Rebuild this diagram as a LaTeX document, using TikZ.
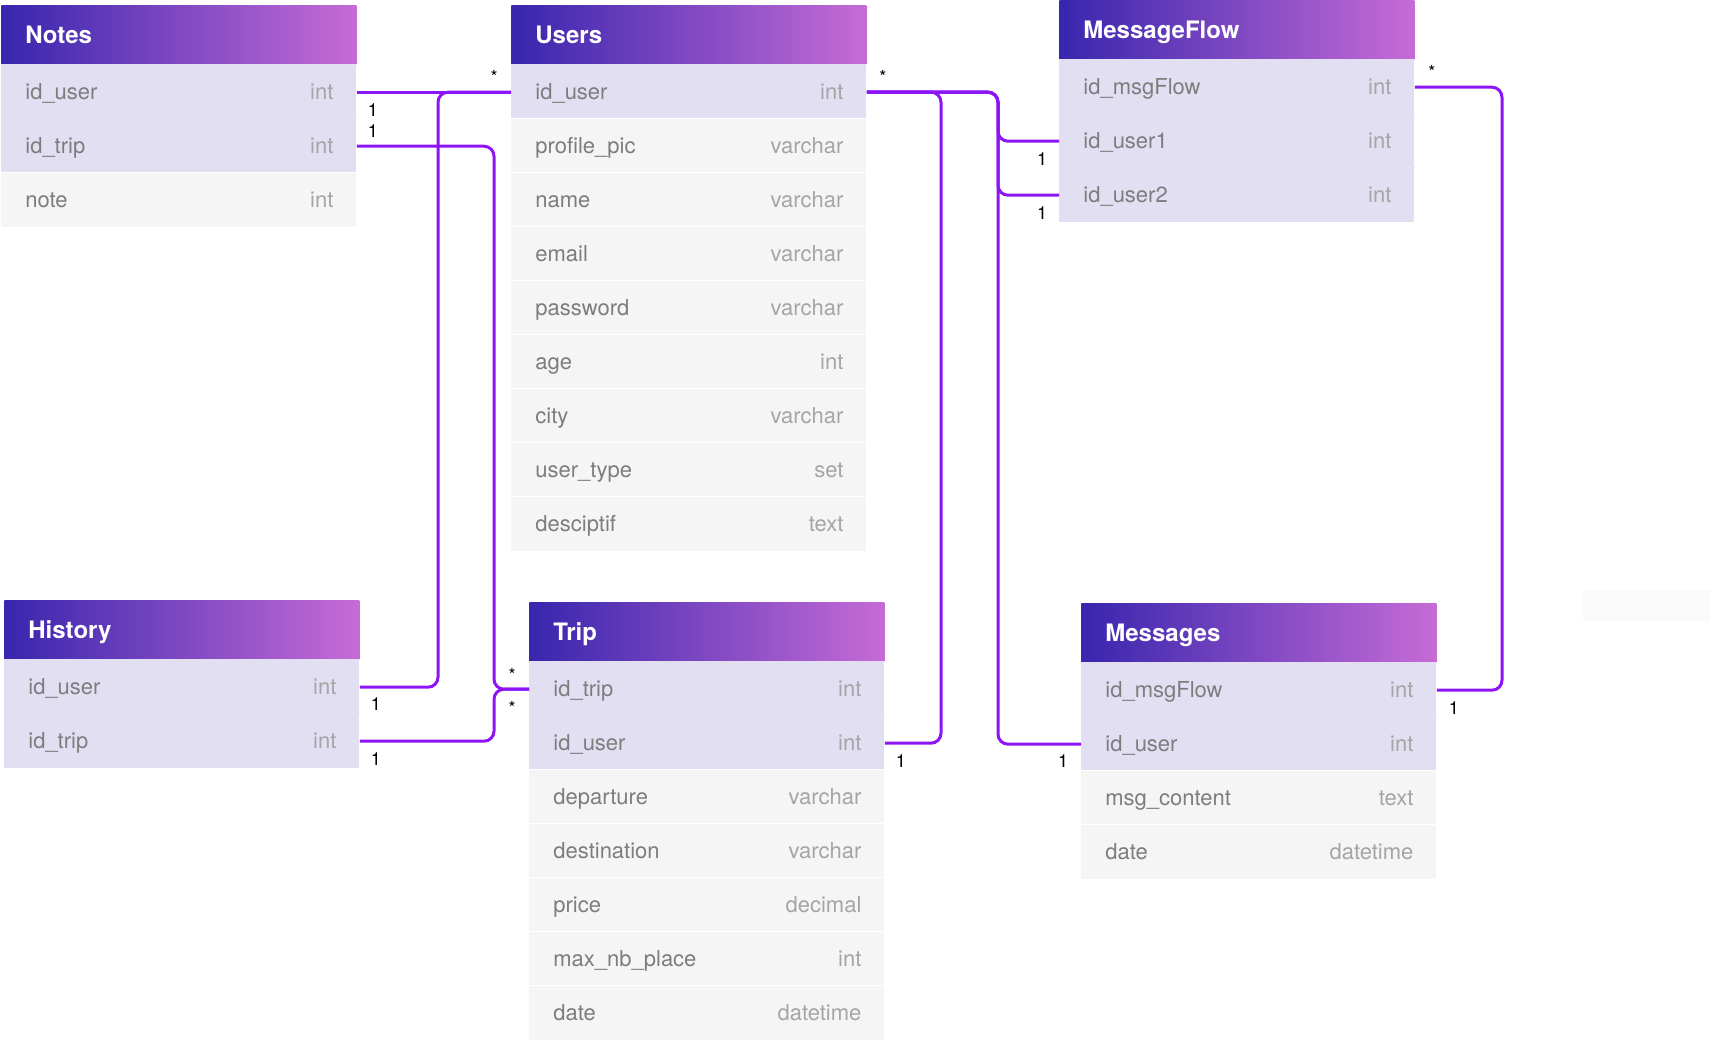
\documentclass[tikz,border=0pt]{standalone}
\usepackage{fontspec}
\setmainfont{TeX Gyre Heros}
\usetikzlibrary{positioning, calc}
\definecolor{colHeadL}{RGB}{56, 38, 174}
\definecolor{colHeadR}{RGB}{198, 107, 214}
\definecolor{colKey}{RGB}{227, 223, 243}
\definecolor{colPlain}{RGB}{245, 245, 245}
\definecolor{colName}{RGB}{125, 125, 125}
\definecolor{colType}{RGB}{165, 165, 165}
\definecolor{colLink}{RGB}{140, 20, 245}
\definecolor{colGhost}{RGB}{250, 250, 250}
\colorlet{sepcolKey}{colKey}
\colorlet{sepcolPlain}{white}

\tikzset{
    tblhead/.style={rectangle, anchor=north west, inner sep=0pt,
        minimum width=177.5pt, minimum height=29.5pt,
        left color=colHeadL, right color=colHeadR},
    tbltitle/.style={anchor=west, text=white, inner sep=0pt,
        text height=10pt, text depth=1.5pt, font=\fontsize{12}{14}\selectfont\bfseries},
    tblrow/.style={rectangle, anchor=north west, inner sep=0pt,
        minimum width=177.5pt, minimum height=27pt},
    fieldname/.style={anchor=west, text=colName, inner sep=0pt,
        text height=9pt, text depth=1.5pt, font=\fontsize{11}{13}\selectfont},
    fieldtype/.style={anchor=east, text=colType, inner sep=0pt,
        text height=9pt, text depth=1.5pt, font=\fontsize{11}{13}\selectfont},
    link/.style={draw=colLink, line width=1.5pt, rounded corners=5pt},
    card/.style={inner sep=0pt, font=\fontsize{9}{10}\selectfont}
}

% #1 name, #2 top left corner, #3 title, #4 fields as name/type/fill
\newcommand{\erdtable}[4]{
    \node[tblhead] (#1) at (#2) {};
    \node[tbltitle] at ($(#1.west)+(24,0)$) {#3};
    \foreach \fname/\ftype/\ffill [count=\i] in {#4} {
        \node[tblrow, fill=\ffill] (#1-\i) at ($(#1.south west)+(0,{(\i-1)*54})$) {};
        \draw[sep\ffill, line width=0.4pt] (#1-\i.north west) -- (#1-\i.north east);
        \node[fieldname] at ($(#1-\i.west)+(24,0)$) {\fname};
        \node[fieldtype] at ($(#1-\i.east)+(-23,0)$) {\ftype};
    }
}

\begin{document}
\begin{tikzpicture}[x=0.5pt, y=-0.5pt]
    \useasboundingbox (0,0) rectangle (1710,1041);
    \fill[colGhost] (1583,590) rectangle (1710,621);

    % --- Tables ---
    \erdtable{notes}{1,5}{Notes}{id\_user/int/colKey, id\_trip/int/colKey,
        note/int/colPlain}
    \erdtable{users}{511,5}{Users}{id\_user/int/colKey, profile\_pic/varchar/colPlain,
        name/varchar/colPlain, email/varchar/colPlain, password/varchar/colPlain,
        age/int/colPlain, city/varchar/colPlain, user\_type/set/colPlain,
        desciptif/text/colPlain}
    \erdtable{msgflow}{1059,0}{MessageFlow}{id\_msgFlow/int/colKey,
        id\_user1/int/colKey, id\_user2/int/colKey}
    \erdtable{history}{4,600}{History}{id\_user/int/colKey, id\_trip/int/colKey}
    \erdtable{trip}{529,602}{Trip}{id\_trip/int/colKey, id\_user/int/colKey,
        departure/varchar/colPlain, destination/varchar/colPlain,
        price/decimal/colPlain, max\_nb\_place/int/colPlain, date/datetime/colPlain}
    \erdtable{messages}{1081,603}{Messages}{id\_msgFlow/int/colKey,
        id\_user/int/colKey, msg\_content/text/colPlain, date/datetime/colPlain}

    % --- Routing columns ---
    \coordinate (colA) at (438,0);
    \coordinate (colB) at (494,0);
    \coordinate (colC) at (941,0);
    \coordinate (colD) at (998,0);
    \coordinate (colE) at (1502,0);

    % --- Relations ---
    \draw[link] (notes-1.east) -- (users-1.west);
    \draw[link] (history-1.east) -| (colA |- users-1.west) -- (users-1.west);
    \draw[link] (notes-2.east) -| (colB |- trip-1.west) -- (trip-1.west);
    \draw[link] (history-2.east) -| (colB |- trip-1.west) -- (trip-1.west);
    \draw[link] (users-1.east) -| (colC |- trip-2.east) -- (trip-2.east);
    \draw[link] (users-1.east) -| (colD |- msgflow-2.west) -- (msgflow-2.west);
    \draw[link] (users-1.east) -| (colD |- msgflow-3.west) -- (msgflow-3.west);
    \draw[link] (users-1.east) -| (colD |- messages-2.west) -- (messages-2.west);
    \draw[link] (msgflow-1.east) -| (colE |- messages-1.east) -- (messages-1.east);

    % --- Cardinalities ---
    \node[card] at ($(notes-1.east)+(16,18)$) {1};
    \node[card] at ($(notes-2.east)+(16,-15)$) {1};
    \node[card] at ($(users-1.west)+(-17,-15)$) {*};
    \node[card] at ($(users-1.east)+(16,-15)$) {*};
    \node[card] at ($(msgflow-1.east)+(17,-15)$) {*};
    \node[card] at ($(msgflow-2.west)+(-17,18)$) {1};
    \node[card] at ($(msgflow-3.west)+(-17,18)$) {1};
    \node[card] at ($(trip-1.west)+(-17,-14)$) {*};
    \node[card] at ($(trip-1.west)+(-17,19)$) {*};
    \node[card] at ($(history-1.east)+(16,17)$) {1};
    \node[card] at ($(history-2.east)+(16,18)$) {1};
    \node[card] at ($(trip-2.east)+(16,18)$) {1};
    \node[card] at ($(messages-2.west)+(-18,17)$) {1};
    \node[card] at ($(messages-1.east)+(17,18)$) {1};
\end{tikzpicture}
\end{document}
